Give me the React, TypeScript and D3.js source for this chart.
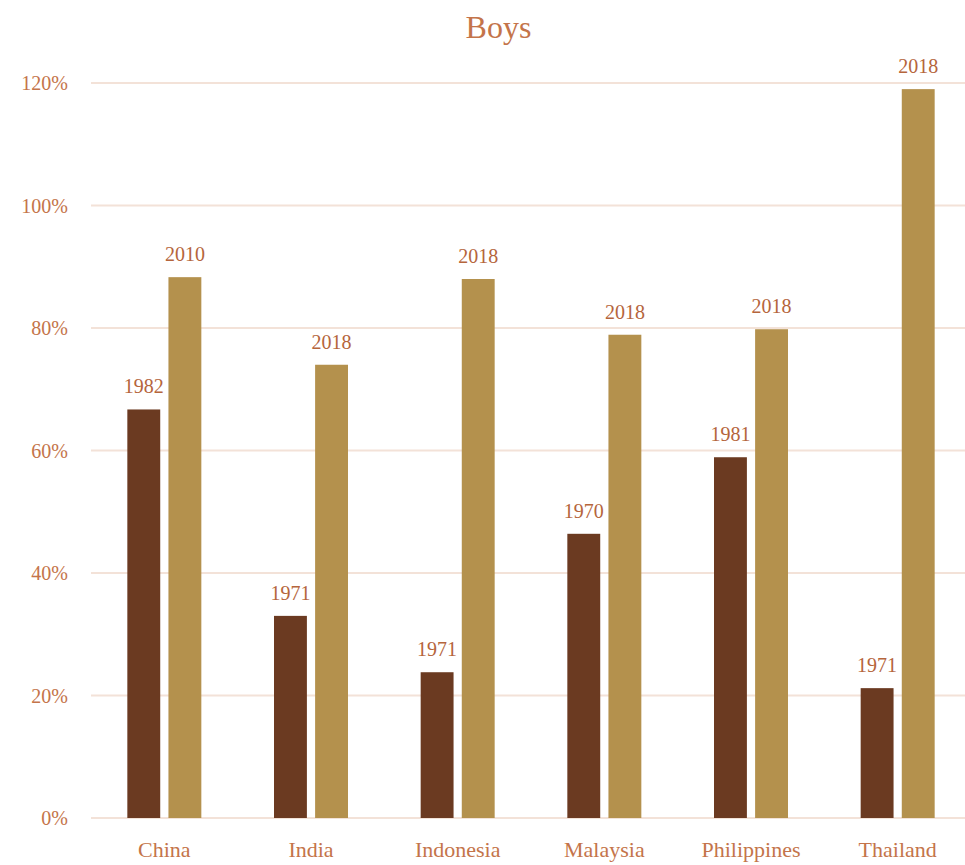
import { useRef, useEffect } from "react";
import { select, scaleBand, scaleLinear } from "d3";

const countries = ["China", "India", "Indonesia", "Malaysia", "Philippines", "Thailand"];
const earlyValues = [66.7, 33.0, 23.8, 46.4, 58.9, 21.2];
const earlyYears = ["1982", "1971", "1971", "1970", "1981", "1971"];
const lateValues = [88.3, 74.0, 88.0, 78.9, 79.8, 119.0];
const lateYears = ["2010", "2018", "2018", "2018", "2018", "2018"];
const yTicks = [0, 20, 40, 60, 80, 100, 120];

const width = 965;
const height = 865;
const margin = { top: 83, right: -6, bottom: 47, left: 91 };
const font = "'Liberation Serif', 'DejaVu Serif', serif";
const textColor = "#C4744A";
const darkColor = "#6B3A21";
const lightColor = "#B4914D";

function App() {
  const svgRef = useRef<SVGSVGElement>(null);

  useEffect(() => {
    const svg = select(svgRef.current);
    svg.selectAll("*").remove();

    const x = scaleBand().domain(countries).range([margin.left, width - margin.right]);
    const inner = scaleBand().domain(["early", "late"]).range([-37, 37]).paddingInner(0.2);
    const y = scaleLinear().domain([0, 120]).range([height - margin.bottom, margin.top]);

    svg
      .append("text")
      .attr("x", width / 2 + 16)
      .attr("y", 38)
      .attr("text-anchor", "middle")
      .attr("font-family", font)
      .attr("font-size", 32)
      .attr("fill", textColor)
      .text("Boys");

    const grid = svg.append("g");
    grid
      .selectAll("line")
      .data(yTicks)
      .enter()
      .append("line")
      .attr("x1", margin.left)
      .attr("x2", width)
      .attr("y1", (d) => y(d))
      .attr("y2", (d) => y(d))
      .attr("stroke", "#F3E2D8")
      .attr("stroke-width", 2);

    grid
      .selectAll("text")
      .data(yTicks)
      .enter()
      .append("text")
      .attr("x", 68)
      .attr("y", (d) => y(d) + 7)
      .attr("text-anchor", "end")
      .attr("font-family", font)
      .attr("font-size", 20)
      .attr("fill", textColor)
      .text((d) => `${d}%`);

    const series = [
      { key: "early", values: earlyValues, years: earlyYears, color: darkColor },
      { key: "late", values: lateValues, years: lateYears, color: lightColor },
    ];

    series.forEach((s) => {
      const g = svg.append("g");
      const groups = g.selectAll("g").data(countries).enter().append("g");
      groups
        .append("rect")
        .attr("x", (c) => (x(c) as number) + x.bandwidth() / 2 + (inner(s.key) as number))
        .attr("y", (c, i) => y(s.values[i]))
        .attr("width", inner.bandwidth())
        .attr("height", (c, i) => y(0) - y(s.values[i]))
        .attr("fill", s.color);
      groups
        .append("text")
        .attr(
          "x",
          (c) => (x(c) as number) + x.bandwidth() / 2 + (inner(s.key) as number) + inner.bandwidth() / 2
        )
        .attr("y", (c, i) => y(s.values[i]) - 16)
        .attr("text-anchor", "middle")
        .attr("font-family", font)
        .attr("font-size", 20)
        .attr("fill", "#B5653C")
        .text((c, i) => s.years[i]);
    });

    svg
      .append("g")
      .selectAll("text")
      .data(countries)
      .enter()
      .append("text")
      .attr("x", (c) => (x(c) as number) + x.bandwidth() / 2)
      .attr("y", 857)
      .attr("text-anchor", "middle")
      .attr("font-family", font)
      .attr("font-size", 22)
      .attr("fill", textColor)
      .text((c) => c);
  }, []);

  return (
    <svg
      ref={svgRef}
      width={width}
      height={height}
      style={{ position: "absolute", left: 0, top: 0, background: "#fff" }}
    />
  );
}

export default App;
